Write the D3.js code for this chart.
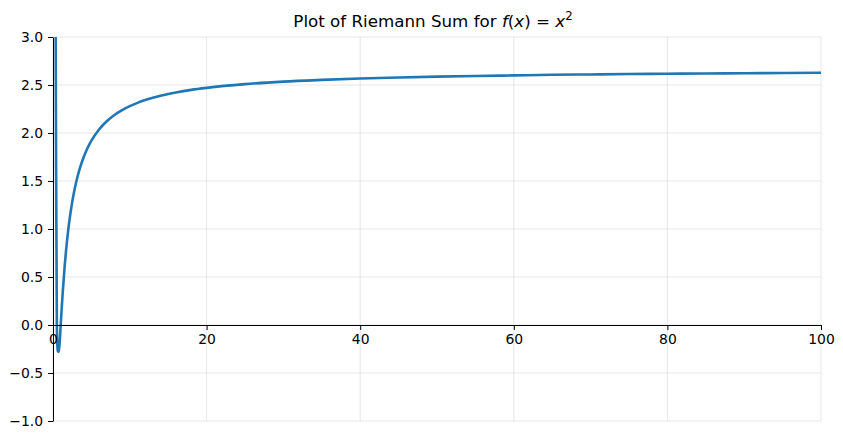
<html>
<script src='https://d3js.org/d3.v7.min.js'></script>
<head>
    <meta charset="UTF-8">
    <style>
        body { margin: 0; background: #fff; }
        svg { font-family: "DejaVu Sans", sans-serif; }
    </style>
</head>
<body>
<svg width=843 height=439></svg>
</body>
<script>
    // values
    const nValues = [0.30, 0.38, 0.5, 0.62, 0.75, 0.88, 1.0, 1.25, 1.5, 1.75, 2, 2.25, 2.5, 2.75, 3, 3.5, 4, 4.5, 5, 6, 7, 8, 9, 10, 11, 12, 13, 14, 15, 16, 18, 20, 25, 30, 35, 40, 45, 50, 55, 60, 65, 70, 75, 80, 85, 90, 95, 100];
    const sumValues = [4.2, 2.2, 0.0, -0.27, -0.28, -0.17, 0.0, 0.32, 0.593, 0.816, 1.0, 1.152, 1.28, 1.388, 1.481, 1.633, 1.75, 1.844, 1.92, 2.037, 2.122, 2.188, 2.239, 2.28, 2.314, 2.343, 2.367, 2.388, 2.406, 2.422, 2.449, 2.470, 2.509, 2.535, 2.553, 2.568, 2.578, 2.587, 2.594, 2.600, 2.606, 2.610, 2.614, 2.617, 2.620, 2.622, 2.625, 2.627];
    const xTicks = [0, 20, 40, 60, 80, 100];
    const yTicks = [-1.0, -0.5, 0.0, 0.5, 1.0, 1.5, 2.0, 2.5, 3.0];

    const margin = {top: 37, right: 22, bottom: 18, left: 53},
          width = 843 - margin.left - margin.right,
          height = 439 - margin.top - margin.bottom;

    const svg = d3.select("svg")
                  .append("g")
                  .attr("transform", `translate(${margin.left},${margin.top})`);

    const x = d3.scaleLinear().domain([0, 100]).range([0, width]);
    const y = d3.scaleLinear().domain([-1, 3]).range([height, 0]);

    // grid
    svg.append("g")
       .selectAll("line")
       .data(xTicks)
       .enter().append("line")
       .attr("x1", d => x(d)).attr("x2", d => x(d))
       .attr("y1", 0).attr("y2", height)
       .style("stroke", "#b0b0b0").style("stroke-opacity", 0.3).style("stroke-width", 1);

    svg.append("g")
       .selectAll("line")
       .data(yTicks)
       .enter().append("line")
       .attr("x1", 0).attr("x2", width)
       .attr("y1", d => y(d)).attr("y2", d => y(d))
       .style("stroke", "#b0b0b0").style("stroke-opacity", 0.3).style("stroke-width", 1);

    // curve
    svg.append("clipPath").attr("id", "clip")
       .append("rect").attr("width", width).attr("height", height);

    const data = nValues.map((n, i) => ({n: n, s: sumValues[i]}));
    const line = d3.line()
                   .x(d => x(d.n))
                   .y(d => y(d.s))
                   .curve(d3.curveMonotoneX);

    svg.append("path")
       .datum(data)
       .attr("clip-path", "url(#clip)")
       .attr("d", line)
       .style("stroke", "#1f77b4")
       .style("stroke-width", 2.6)
       .style("fill", "none");

    // axes through the origin
    const fmtY = d => d3.format(".1f")(d).replace("-", "\u2212");

    const xAxis = svg.append("g")
       .attr("transform", `translate(0,${y(0)})`)
       .call(d3.axisBottom(x).tickValues(xTicks).tickFormat(d3.format("d"))
               .tickSize(5).tickPadding(4).tickSizeOuter(0));

    const yAxis = svg.append("g")
       .attr("transform", `translate(${x(0)},0)`)
       .call(d3.axisLeft(y).tickValues(yTicks).tickFormat(fmtY)
               .tickSize(5).tickPadding(5).tickSizeOuter(0));

    [xAxis, yAxis].forEach(a => {
        a.selectAll("text").style("font-family", "DejaVu Sans").style("font-size", "13.9px").style("fill", "#000");
        a.selectAll("line").style("stroke", "#000").style("stroke-width", 1);
        a.select(".domain").style("stroke", "#000").style("stroke-width", 1);
    });

    // title
    const title = svg.append("text")
       .attr("x", width / 2 - 4)
       .attr("y", -10)
       .style("text-anchor", "middle")
       .style("font-size", "16.7px")
       .style("fill", "#000");
    title.append("tspan").text("Plot of Riemann Sum for ");
    title.append("tspan").style("font-style", "italic").text("f");
    title.append("tspan").text("(");
    title.append("tspan").style("font-style", "italic").text("x");
    title.append("tspan").text(") = ");
    title.append("tspan").style("font-style", "italic").text("x");
    title.append("tspan").attr("dy", -7).style("font-size", "11.7px").text("2");
</script>
</html>
